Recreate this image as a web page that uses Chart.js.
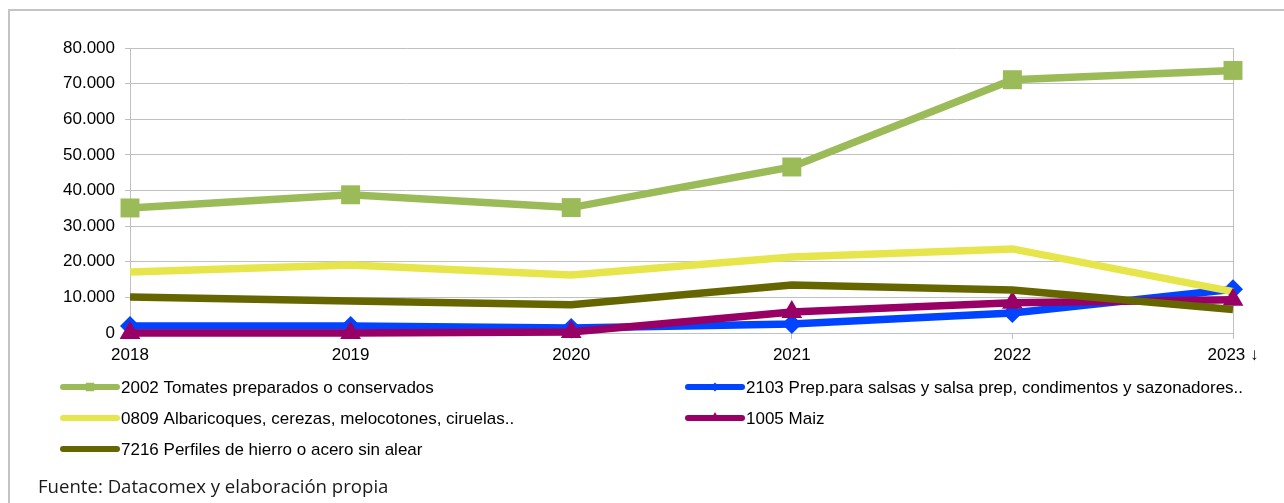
<!DOCTYPE html>
<html>
<head>
<meta charset="utf-8">
<script src="https://cdn.jsdelivr.net/npm/chart.js@4.4.1/dist/chart.umd.min.js"></script>
<style>
  html, body { margin: 0; padding: 0; background: #fff; }
  #wrap { position: relative; width: 1284px; height: 503px; overflow: hidden; }
  #footer { position: absolute; left: 38px; top: 473px; font-family: 'Open Sans', Lato, sans-serif; font-size: 18.6px; color: #1a1a1a; white-space: nowrap; }
</style>
</head>
<body>
<div id="wrap">
  <canvas id="lineChart" width="1284" height="503"></canvas>
  <div id="footer">Fuente: Datacomex y elaboración propia</div>
</div>
<script>
var years = ['2018', '2019', '2020', '2021', '2022', '2023 ↓'];
var seriesNames = [
    '2002 Tomates preparados o conservados',
    '2103 Prep.para salsas y salsa prep, condimentos y sazonadores..',
    '0809 Albaricoques, cerezas, melocotones, ciruelas..',
    '1005 Maiz',
    '7216 Perfiles de hierro o acero sin alear'
];
var tomates = [35100, 38800, 35200, 46600, 71100, 73700];
var salsas = [2000, 2000, 1400, 2500, 5600, 12300];
var albaricoques = [17100, 19100, 16300, 21300, 23600, 11600];
var maiz = [0, 0, 300, 5900, 8500, 9300];
var perfiles = [10100, 9000, 7900, 13500, 12100, 6600];
var yTicks = [0, 10000, 20000, 30000, 40000, 50000, 60000, 70000, 80000];

var colors = ['#9bbb59', '#0044ff', '#e6e64c', '#990066', '#666600'];
var markers = ['rect', 'rectRot', false, 'triangle', false];
var markerSizes = [13.4, 10, 0, 12, 0];
var legendMarkerSizes = [6, 4.5, 0, 6, 0];

var mainFont = "'Liberation Sans', Arial, sans-serif";

function fmt(v) {
    if (v === 0) return '0';
    return String(Math.round(v / 1000)) + '.000';
}

// legend in two columns, row by row, like the original sheet
var gridLegend = {
    id: 'gridLegend',
    afterDraw: function(chart) {
        var ctx = chart.ctx;
        ctx.save();
        chart.data.datasets.forEach(function(ds, i) {
            var col = i % 2, row = Math.floor(i / 2);
            var x = col ? 688 : 63;
            var y = 387 + row * 31;
            ctx.strokeStyle = ds.borderColor;
            ctx.lineWidth = 6;
            ctx.lineCap = 'round';
            ctx.beginPath();
            ctx.moveTo(x, y);
            ctx.lineTo(x + 54, y);
            ctx.stroke();
            if (ds.pointStyle) {
                ctx.fillStyle = ds.borderColor;
                Chart.helpers.drawPoint(ctx, { pointStyle: ds.pointStyle, radius: legendMarkerSizes[i], borderWidth: 0 }, x + 27, y);
            }
            ctx.fillStyle = '#000';
            ctx.font = '17px ' + mainFont;
            ctx.textBaseline = 'middle';
            ctx.fillText(ds.label, x + 58, y + 1);
        });
        ctx.restore();
    }
};

var frame = {
    id: 'frame',
    beforeDraw: function(chart) {
        var ctx = chart.ctx;
        ctx.save();
        ctx.strokeStyle = '#c4c4c4';
        ctx.lineWidth = 2;
        ctx.strokeRect(9, 10, 1400, 600);
        ctx.restore();
    }
};

document.addEventListener('DOMContentLoaded', function() {
    var canvas = document.getElementById('lineChart');
    var ctx = canvas.getContext('2d');
    var values = [tomates, salsas, albaricoques, maiz, perfiles];
    var datasets = values.map(function(v, i) {
        return {
            label: seriesNames[i],
            data: v,
            borderColor: colors[i],
            backgroundColor: colors[i],
            borderWidth: 7.5,
            pointStyle: markers[i],
            pointRadius: markerSizes[i],
            pointBorderWidth: 0,
            pointBackgroundColor: colors[i],
            tension: 0,
            clip: false,
            order: values.length - i
        };
    });
    new Chart(ctx, {
        type: 'line',
        data: { labels: years, datasets: datasets },
        plugins: [frame, gridLegend],
        options: {
            responsive: false,
            animation: false,
            layout: { padding: { top: 48, right: 51, bottom: 130, left: 0 } },
            plugins: { legend: { display: false }, tooltip: { enabled: false } },
            scales: {
                x: {
                    offset: false,
                    grid: {
                        color: function(c) { return c.index === years.length - 1 ? '#c0c0c0' : 'rgba(0,0,0,0)'; },
                        tickColor: '#c0c0c0',
                        tickLength: 6
                    },
                    border: { color: '#c0c0c0' },
                    ticks: { color: '#000', font: { family: mainFont, size: 17 }, padding: 6, maxRotation: 0 },
                    afterFit: function(s) { s.height = 40; }
                },
                y: {
                    min: 0,
                    max: 80000,
                    afterBuildTicks: function(s) { s.ticks = yTicks.map(function(v) { return { value: v }; }); },
                    grid: { color: '#c0c0c0', tickLength: 5 },
                    border: { color: '#c0c0c0' },
                    ticks: { color: '#000', font: { family: mainFont, size: 17 }, padding: 10, callback: fmt },
                    afterFit: function(s) { s.width = 130; }
                }
            }
        }
    });
});
</script>
</body>
</html>
